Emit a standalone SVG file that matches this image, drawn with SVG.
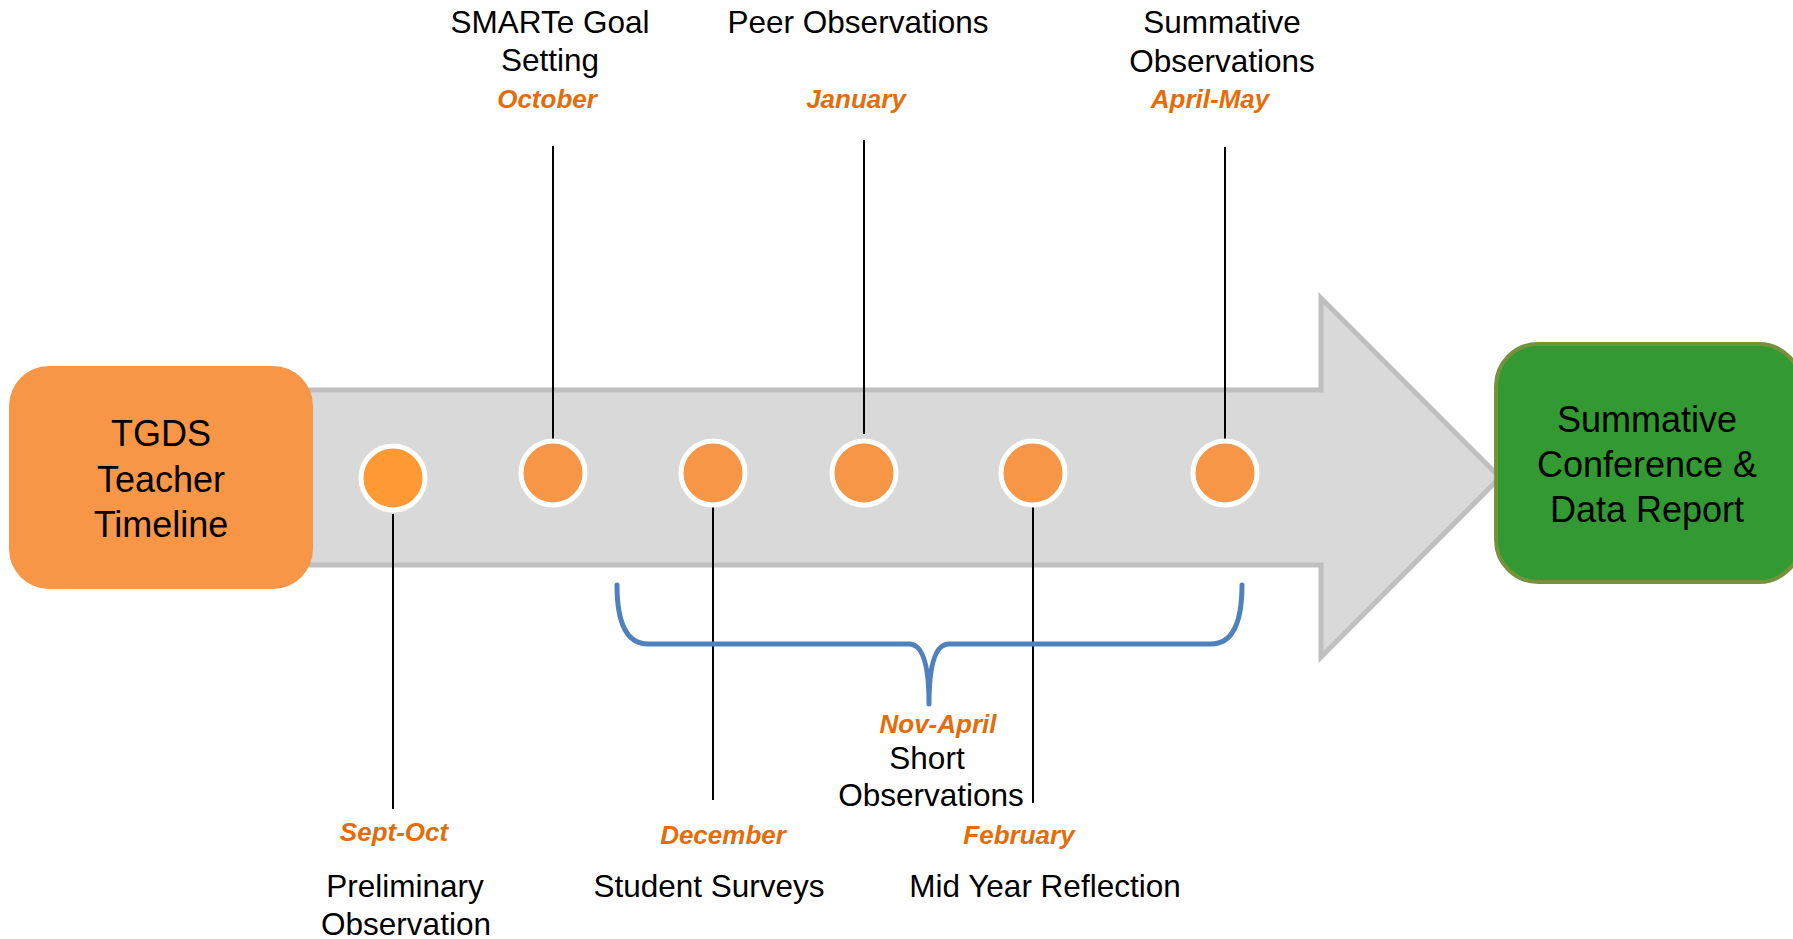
<svg xmlns="http://www.w3.org/2000/svg" width="1793" height="939" viewBox="0 0 1793 939">
<style>
  .lbl { font-family: "Liberation Sans", Arial, sans-serif; font-size: 31.5px; fill: #000; text-anchor: middle; }
  .big { font-family: "Liberation Sans", Arial, sans-serif; font-size: 36px; fill: #000; text-anchor: middle; }
  .date { font-family: "Liberation Sans", Arial, sans-serif; font-size: 26px; font-weight: bold; font-style: italic; fill: #E46C0A; text-anchor: middle; }
  .dot { fill: #F79646; stroke: #FFFFFF; stroke-width: 5; }
  .conn { stroke: #000; stroke-width: 2; fill: none; }
</style>
<rect width="1793" height="939" fill="#FFFFFF"/>
<g id="arrow">
  <polygon points="280,390 1321,390 1321,298 1500,477.5 1321,657 1321,565 280,565" fill="#D9D9D9" stroke="#BFBFBF" stroke-width="5"/>
</g>
<g id="start">
  <rect x="9" y="366" width="304" height="223" rx="40" ry="40" fill="#F79646"/>
  <text class="big" x="161" y="446">TGDS</text>
  <text class="big" x="161" y="492">Teacher</text>
  <text class="big" x="161" y="537">Timeline</text>
</g>
<g id="end">
  <rect x="1496" y="344" width="305" height="238" rx="42" ry="42" fill="#339933" stroke="#76923C" stroke-width="4"/>
  <text class="big" x="1647" y="432">Summative</text>
  <text class="big" x="1647" y="477">Conference &amp;</text>
  <text class="big" x="1647" y="522">Data Report</text>
</g>
<g id="connectors">
  <line class="conn" x1="393" y1="514" x2="393" y2="809"/>
  <line class="conn" x1="553" y1="146" x2="553" y2="442"/>
  <line class="conn" x1="713" y1="507" x2="713" y2="800"/>
  <line class="conn" x1="864" y1="140" x2="864" y2="434"/>
  <line class="conn" x1="1033" y1="505" x2="1033" y2="803"/>
  <line class="conn" x1="1225" y1="147" x2="1225" y2="442"/>
  <path d="M617,585 Q617,644 648,644 L909,644 Q929,644 929,704 Q929,644 949,644 L1211,644 Q1242,644 1242,585" fill="none" stroke="#4F81BD" stroke-width="5" stroke-linecap="round" stroke-linejoin="round"/>
</g>
<g id="m-prelim">
  <circle cx="393" cy="478" r="32" fill="#FF9933" stroke="#FFFFFF" stroke-width="5"/>
  <text class="date" x="394" y="841">Sept-Oct</text>
  <text class="lbl" x="405" y="897">Preliminary</text>
  <text class="lbl" x="406" y="935">Observation</text>
</g>
<g id="m-smarte">
  <circle class="dot" cx="553" cy="473" r="32"/>
  <text class="lbl" x="550" y="33">SMARTe Goal</text>
  <text class="lbl" x="550" y="71">Setting</text>
  <text class="date" x="547" y="108">October</text>
</g>
<g id="m-surveys">
  <circle class="dot" cx="713" cy="473" r="32"/>
  <text class="date" x="723" y="844">December</text>
  <text class="lbl" x="709" y="897">Student Surveys</text>
</g>
<g id="m-peer">
  <circle class="dot" cx="864" cy="473" r="32"/>
  <text class="lbl" x="858" y="33">Peer Observations</text>
  <text class="date" x="856" y="108">January</text>
</g>
<g id="m-midyear">
  <circle class="dot" cx="1033" cy="473" r="32"/>
  <text class="date" x="1019" y="844">February</text>
  <text class="lbl" x="1045" y="897">Mid Year Reflection</text>
</g>
<g id="m-summative">
  <circle class="dot" cx="1225" cy="473" r="32"/>
  <text class="lbl" x="1222" y="33">Summative</text>
  <text class="lbl" x="1222" y="72">Observations</text>
  <text class="date" x="1210" y="108">April-May</text>
</g>
<g id="m-short">
  <text class="date" x="938" y="733">Nov-April</text>
  <text class="lbl" x="927" y="769">Short</text>
  <text class="lbl" x="931" y="806">Observations</text>
</g>
</svg>
